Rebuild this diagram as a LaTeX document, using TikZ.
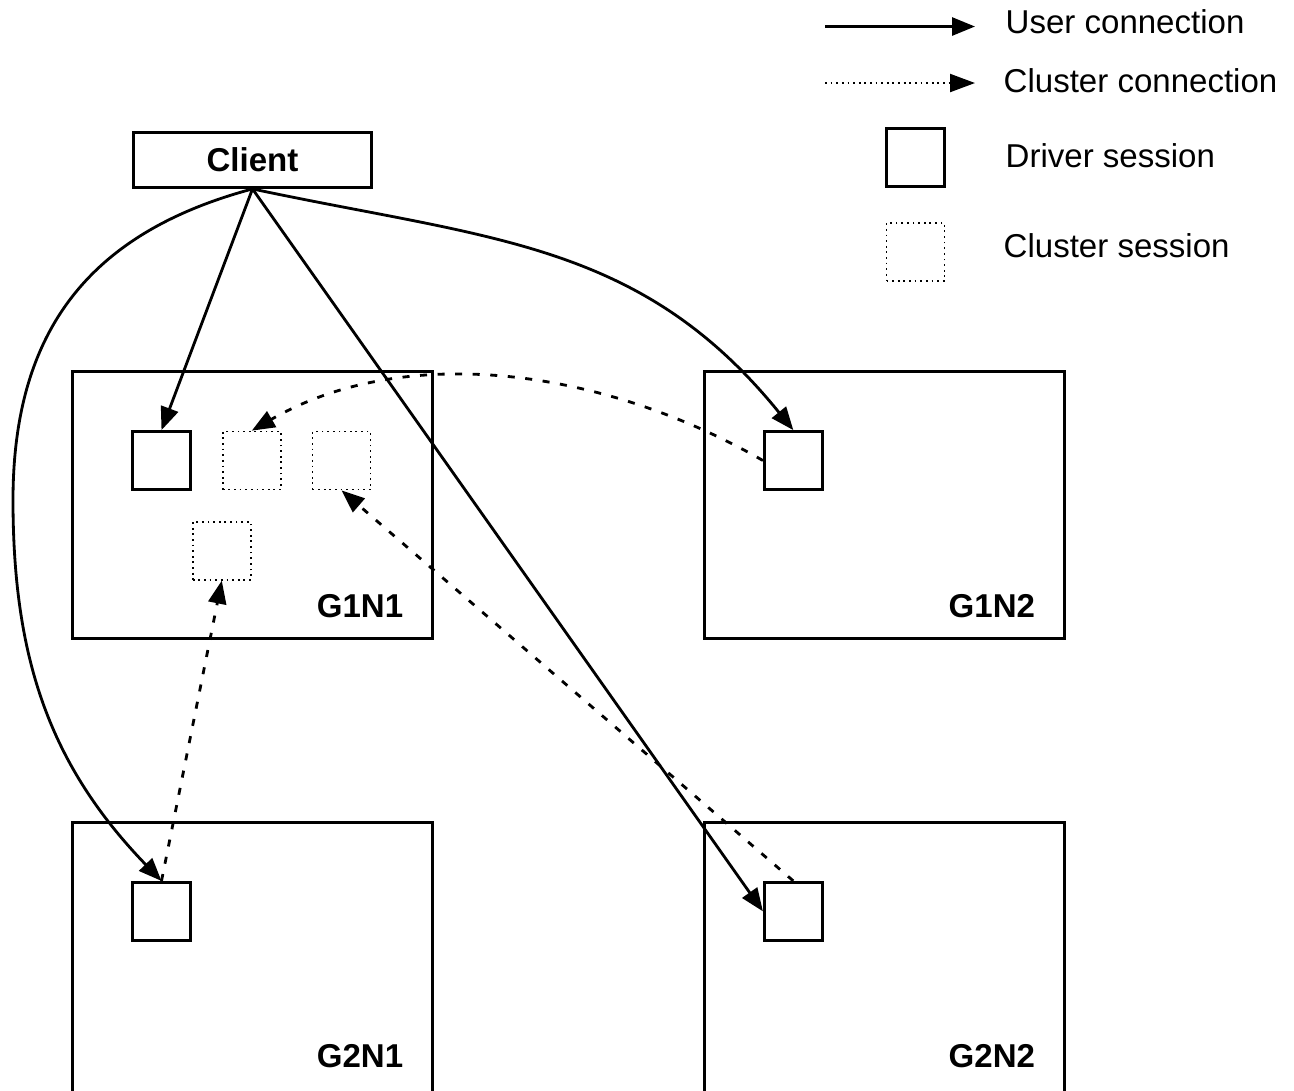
\documentclass[tikz,border=0pt]{standalone}
\usepackage{fontspec}
\setmainfont{Liberation Sans}
\usepackage{tikz}
\usetikzlibrary{arrows.meta,positioning,calc}
\newcommand{\taille}{\fontsize{9.4}{11}\selectfont}
\tikzset{
  boite/.style={rectangle, draw=black, line width=0.8pt, fill=white, inner sep=0pt,
                minimum width=3.60cm, minimum height=#1},
  boite/.default=2.67cm,
  drv/.style={rectangle, draw=black, line width=0.8pt, inner sep=0pt,
              minimum width=0.58cm, minimum height=0.58cm},
  clu/.style={rectangle, draw=black, line width=0.5pt, dash pattern=on 0.5pt off 1.1pt,
              inner sep=0pt, minimum width=0.58cm, minimum height=0.58cm},
  etiq/.style={font=\taille\bfseries, inner sep=0pt, anchor=base east},
  leg/.style={font=\taille, inner sep=0pt, anchor=base west},
  usr/.style={-{Triangle[length=2.3mm,width=1.8mm]}, line width=0.8pt},
  clc/.style={-{Triangle[length=2.3mm,width=1.8mm]}, line width=0.8pt, dash pattern=on 2pt off 3pt},
  clcleg/.style={-{Triangle[length=2.5mm,width=1.8mm]}, line width=0.6pt, dash pattern=on 0.5pt off 1.1pt},
}

\begin{document}
\begin{tikzpicture}
    \useasboundingbox (0,0) rectangle (12.94,-10.90);
    % legende
    \coordinate (lu0) at (8.25,-0.265);
    \coordinate (lu1) at (9.75,-0.265);
    \coordinate (lc0) at (8.25,-0.83);
    \coordinate (lc1) at (9.75,-0.83);
    \draw[usr] (lu0) -- (lu1);
    \draw[clcleg] (lc0) -- (lc1);
    \node[drv] (ldrv) at (9.155,-1.575) {};
    \node[clu] (lclu) at (9.155,-2.52) {};
    \node[leg] (tu) at (10.05,-0.335) {User connection};
    \node[leg] (tc) at (10.03,-0.92) {Cluster connection};
    \node[leg] (td) at (10.05,-1.67) {Driver session};
    \node[leg] (tcs) at (10.03,-2.57) {Cluster session};
    % client et noeuds
    \node[rectangle, draw=black, line width=0.8pt, minimum width=2.38cm, minimum height=0.55cm,
          inner sep=0pt, font=\taille\bfseries] (client) at (2.525,-1.60) {Client};
    \node[boite] (g1n1) at (2.525,-5.05) {};
    \node[boite, right=2.69cm of g1n1] (g1n2) {};
    \node[boite=2.80cm, below=1.81cm of g1n1] (g2n1) {};
    \node[boite=2.80cm, right=2.69cm of g2n1] (g2n2) {};
    \node[etiq] (e11) at ($(g1n1.north east)+(-0.3,-2.47)$) {G1N1};
    \node[etiq] (e12) at ($(g1n2.north east)+(-0.3,-2.47)$) {G1N2};
    \node[etiq] (e21) at ($(g2n1.north east)+(-0.3,-2.47)$) {G2N1};
    \node[etiq] (e22) at ($(g2n2.north east)+(-0.3,-2.47)$) {G2N2};
    % sessions
    \node[drv, below right=0.6cm and 0.6cm of g1n1.north west] (d11) {};
    \node[drv, below right=0.6cm and 0.6cm of g1n2.north west] (d12) {};
    \node[drv, below right=0.6cm and 0.6cm of g2n1.north west] (d21) {};
    \node[drv, below right=0.6cm and 0.6cm of g2n2.north west] (d22) {};
    \node[clu, right=0.3cm of d11] (c1) {};
    \node[clu, right=0.3cm of c1] (c2) {};
    \node[clu, below right=0.3cm and 0cm of d11.south east] (c3) {};
    % connexions
    \coordinate (gauche) at (0.13,-5.0);
    \draw[usr] (client.south) -- (d11.north);
    \draw[usr] (client.south) -- (d22.west);
    \draw[usr] (client.south) to[out=-12, in=129, looseness=1.05] (d12.north);
    \draw[usr] (client.south) to[out=195, in=90, looseness=1.1] (gauche)
               to[out=-90, in=134] (d21.north);
    \draw[clc] (d12.west) to[out=150, in=30, looseness=0.9] (c1.north);
    \draw[clc] (d22.north) -- (c2.south);
    \draw[clc] (d21.north) -- (c3.south);
\end{tikzpicture}
\end{document}
